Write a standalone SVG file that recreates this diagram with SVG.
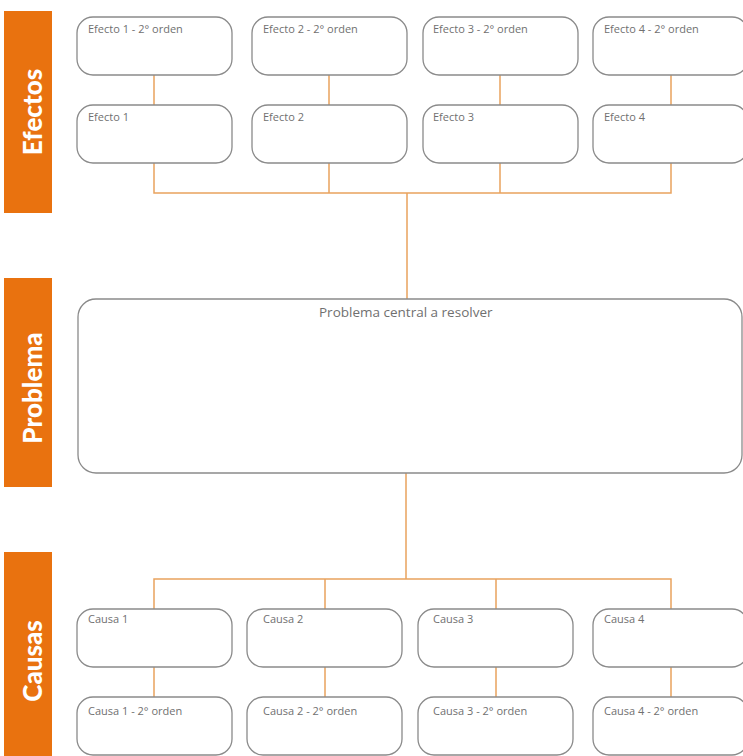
<svg xmlns="http://www.w3.org/2000/svg" width="743" height="756" viewBox="0 0 743 756">
<style>
.bar{fill:#E9720F}
.bl{fill:#fff;font-family:Lato,"Open Sans",sans-serif;font-weight:900;font-size:26px}
.box{fill:#fff;stroke:#8a8a8a;stroke-width:1.3}
.t{fill:#707070;font-family:"Open Sans","Noto Sans",sans-serif;font-size:11px}
.tp{fill:#707070;font-family:"Open Sans","Noto Sans",sans-serif;font-size:13.5px}
.c{fill:none;stroke:#E9A35E;stroke-width:1.5}
</style>
<rect width="743" height="756" fill="#fff"/>
<g id="connectors">
<path class="c" d="M154 75V105M329 75V105M500 75V105M671 75V105"/>
<path class="c" d="M154 163V193H671V163M329 163V193M500 163V193M407 193V299"/>
<path class="c" d="M406 473V579M154 609V579H671V609M325 579V609M496 579V609"/>
<path class="c" d="M154 667V697M325 667V697M496 667V697M671 667V697"/>
</g>
<g id="label-efectos"><rect class="bar" x="4" y="11" width="48" height="202"/><text class="bl" transform="translate(42 112) rotate(-90)" text-anchor="middle">Efectos</text></g>
<g id="label-problema"><rect class="bar" x="4" y="278" width="48" height="209"/><text class="bl" transform="translate(42 388) rotate(-90)" text-anchor="middle">Problema</text></g>
<g id="label-causas"><rect class="bar" x="4" y="552" width="48" height="210"/><text class="bl" transform="translate(42 661) rotate(-90)" text-anchor="middle">Causas</text></g>
<g id="efecto1-2"><rect class="box" x="77" y="17" width="155" height="58" rx="16"/><text class="t" x="88" y="33">Efecto 1 - 2° orden</text></g>
<g id="efecto2-2"><rect class="box" x="252" y="17" width="155" height="58" rx="16"/><text class="t" x="263" y="33">Efecto 2 - 2° orden</text></g>
<g id="efecto3-2"><rect class="box" x="423" y="17" width="155" height="58" rx="16"/><text class="t" x="433" y="33">Efecto 3 - 2° orden</text></g>
<g id="efecto4-2"><rect class="box" x="593" y="17" width="155" height="58" rx="16"/><text class="t" x="604" y="33">Efecto 4 - 2° orden</text></g>
<g id="efecto1"><rect class="box" x="77" y="105" width="155" height="58" rx="16"/><text class="t" x="88" y="121">Efecto 1</text></g>
<g id="efecto2"><rect class="box" x="252" y="105" width="155" height="58" rx="16"/><text class="t" x="263" y="121">Efecto 2</text></g>
<g id="efecto3"><rect class="box" x="423" y="105" width="155" height="58" rx="16"/><text class="t" x="433" y="121">Efecto 3</text></g>
<g id="efecto4"><rect class="box" x="593" y="105" width="155" height="58" rx="16"/><text class="t" x="604" y="121">Efecto 4</text></g>
<g id="problema"><rect class="box" x="78" y="299" width="664" height="174" rx="18"/><text class="tp" x="319" y="317">Problema central a resolver</text></g>
<g id="causa1"><rect class="box" x="77" y="609" width="155" height="58" rx="16"/><text class="t" x="88" y="623">Causa 1</text></g>
<g id="causa2"><rect class="box" x="247" y="609" width="155" height="58" rx="16"/><text class="t" x="263" y="623">Causa 2</text></g>
<g id="causa3"><rect class="box" x="418" y="609" width="155" height="58" rx="16"/><text class="t" x="433" y="623">Causa 3</text></g>
<g id="causa4"><rect class="box" x="593" y="609" width="155" height="58" rx="16"/><text class="t" x="604" y="623">Causa 4</text></g>
<g id="causa1-2"><rect class="box" x="77" y="697" width="155" height="58" rx="16"/><text class="t" x="88" y="715">Causa 1 - 2° orden</text></g>
<g id="causa2-2"><rect class="box" x="247" y="697" width="155" height="58" rx="16"/><text class="t" x="263" y="715">Causa 2 - 2° orden</text></g>
<g id="causa3-2"><rect class="box" x="418" y="697" width="155" height="58" rx="16"/><text class="t" x="433" y="715">Causa 3 - 2° orden</text></g>
<g id="causa4-2"><rect class="box" x="593" y="697" width="155" height="58" rx="16"/><text class="t" x="604" y="715">Causa 4 - 2° orden</text></g>
</svg>
